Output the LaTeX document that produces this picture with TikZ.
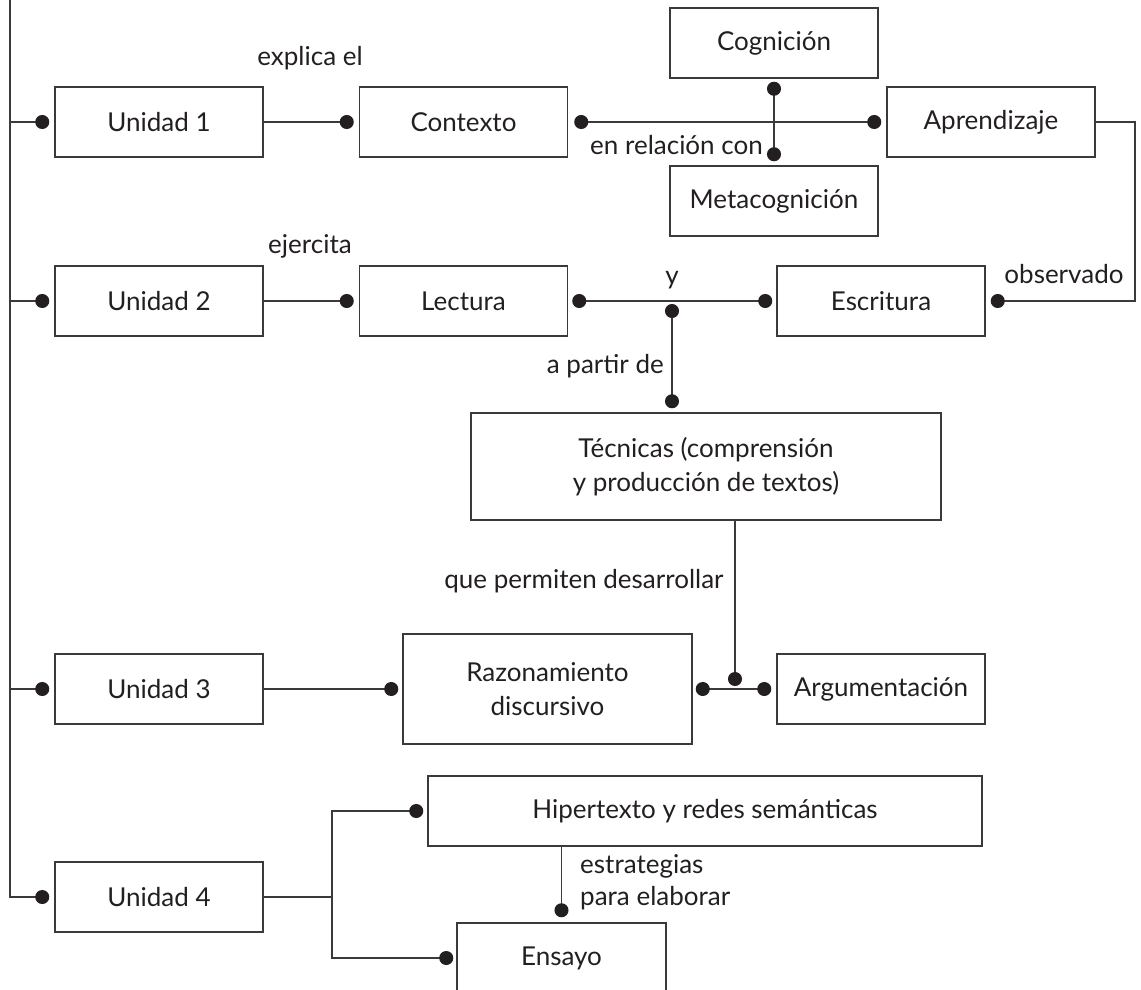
\documentclass[tikz,border=0pt]{standalone}
\usepackage{fontspec}
\setmainfont{Lato}
\usetikzlibrary{arrows.meta}
\definecolor{ink}{HTML}{231F20}
\definecolor{rule}{HTML}{3A3A3A}
\begin{document}
\begin{tikzpicture}[x=1pt,y=-1pt,
  box/.style={draw=rule,line width=1.5pt,minimum height=70pt,inner sep=0pt,
    align=center,text=ink,font=\fontsize{26}{34}\selectfont},
  unit/.style={box,minimum width=208pt},
  lbl/.style={text=ink,font=\fontsize{26}{32}\selectfont,inner sep=0pt},
  link/.style={draw=rule,line width=1.5pt},
  dotend/.style={-{Circle[length=14pt,width=14pt,color=ink]},shorten >=#1},
  dotend/.default=5pt,
  dotboth/.style 2 args={{Circle[length=14pt,width=14pt,color=ink]}-{Circle[length=14pt,width=14pt,color=ink]},
    shorten <=#1,shorten >=#2},
]
\clip (0,0) rectangle (1141,989);

% boxes
\node[unit] (u1) at (159,122) {Unidad 1};
\node[unit] (u2) at (159,301) {Unidad 2};
\node[unit] (u3) at (159,689) {Unidad 3};
\node[unit] (u4) at (159,897) {Unidad 4};
\node[unit] (ctx) at (463.5,122) {Contexto};
\node[unit] (cog) at (774,43) {Cognición};
\node[unit] (meta) at (774,201) {Metacognición};
\node[unit] (apr) at (991,122) {Aprendizaje};
\node[unit] (lec) at (463.5,301) {Lectura};
\node[unit] (esc) at (881,301) {Escritura};
\node[box,minimum width=470pt,minimum height=107pt] (tec) at (706,466.5)
  {Técnicas (comprensión\\y producción de textos)};
\node[box,minimum width=289pt,minimum height=110pt] (raz) at (547.5,689)
  {Razonamiento\\discursivo};
\node[unit] (arg) at (881,689) {Argumentación};
\node[box,minimum width=554pt] (hip) at (705,811) {Hipertexto y redes semánticas};
\node[unit,minimum width=209pt] (ens) at (561.5,958) {Ensayo};

% main bus on the left
\coordinate (bustop) at (10,0);
\draw[link,dotend] (bustop) |- (u4.west);
\draw[link,dotend] (bustop |- u1.west) -- (u1.west);
\draw[link,dotend] (bustop |- u2.west) -- (u2.west);
\draw[link,dotend] (bustop |- u3.west) -- (u3.west);

% unit 1
\draw[link,dotend] (u1.east) -- (ctx.west);
\draw[link,dotboth={6pt}{5pt}] (ctx.east) -- (apr.west);
\draw[link,dotboth={3pt}{4pt}] (cog.south) -- (meta.north);
\draw[link,dotend] (apr.east) -- ++(39,0) coordinate (aprturn) |- (esc.east);

% unit 2
\draw[link,dotend] (u2.east) -- (lec.west);
\draw[link,dotboth={4pt}{4pt}] (lec.east) -- (esc.west);
\coordinate (yjoin) at (672,301);
\draw[link,dotboth={3pt}{4pt}] (yjoin) -- (yjoin |- tec.north);

% unit 3
\coordinate (tjoin) at (735,689);
\draw[link,dotend=3pt] (tjoin |- tec.south) -- (tjoin);
\draw[link,dotend=4pt] (u3.east) -- (raz.west);
\draw[link,dotboth={3pt}{5pt}] (raz.east) -- (arg.west);

% unit 4
\coordinate (fork) at (332,897);
\draw[link] (u4.east) -- (fork);
\draw[link,dotend=4pt] (fork) |- (hip.west);
\draw[link,dotend=3pt] (fork) |- (ens.west);
\draw[link,dotend] (hip.south -| ens.north) -- (ens.north);

% connector labels
\node[lbl,anchor=base] (lexp) at (310,65) {explica el};
\node[lbl,anchor=base east] (lrel) at (763,154) {en relación con};
\node[lbl,anchor=base] (lobs) at (1064,283) {observado};
\node[lbl,anchor=base] (lejr) at (310,253) {ejercita};
\node[lbl,anchor=base] (ly) at (672,284) {y};
\node[lbl,anchor=base east] (lpar) at (664,373) {a partir de};
\node[lbl,anchor=base] (lque) at (584,588) {que permiten desarrollar};
\node[lbl,anchor=west,align=left] (lest) at (580,882) {estrategias\\para elaborar};
\end{tikzpicture}
\end{document}
